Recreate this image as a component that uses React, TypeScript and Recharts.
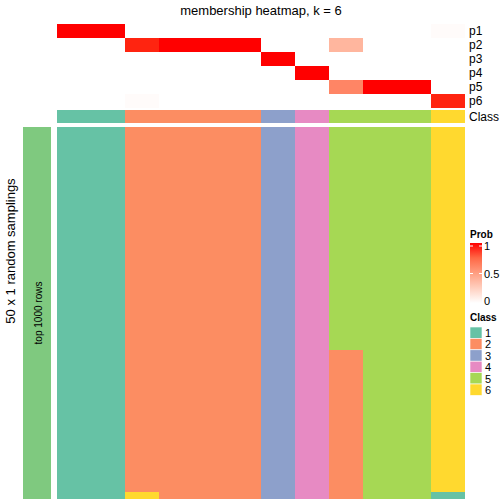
import React from "react"
import { Bar, BarChart, Cell, XAxis, YAxis } from "recharts"

// 12 samples (columns), 6 class probabilities, 50 x 1 random samplings

const columns = ["c1", "c2", "c3", "c4", "c5", "c6", "c7", "c8", "c9", "c10", "c11", "c12"]

const p1 = [1, 1, 0, 0, 0, 0, 0, 0, 0, 0, 0, 0.02]
const p2 = [0, 0, 0.96, 1, 1, 1, 0, 0, 0.38, 0, 0, 0]
const p3 = [0, 0, 0, 0, 0, 0, 1, 0, 0, 0, 0, 0]
const p4 = [0, 0, 0, 0, 0, 0, 0, 1, 0, 0, 0, 0]
const p5 = [0, 0, 0, 0, 0, 0, 0, 0, 0.62, 1, 1, 0]
const p6 = [0, 0, 0.02, 0, 0, 0, 0, 0, 0, 0, 0, 0.96]
const classes = [1, 1, 2, 2, 2, 2, 3, 4, 5, 5, 5, 6]

// samplings: class of the upper block, class of the lower block, rows in lower block
const nSamplings = 50
const topClass = [1, 1, 2, 2, 2, 2, 3, 4, 5, 5, 5, 6]
const bottomClass = [1, 1, 6, 2, 2, 2, 3, 4, 2, 5, 5, 1]
const bottomRows = [0, 0, 1, 0, 0, 0, 0, 0, 20, 0, 0, 1]

const classLabels = ["1", "2", "3", "4", "5", "6"]
const classColors: Record<number, string> = {
  1: "#66C2A5",
  2: "#FC8D62",
  3: "#8DA0CB",
  4: "#E78AC3",
  5: "#A6D854",
  6: "#FFD92F",
}
const probTicks = [1, 0.5, 0]

const font = "'Liberation Sans', Arial, Helvetica, sans-serif"

// white -> red in LAB space
const lin = (c: number) => {
  c /= 255
  return c <= 0.04045 ? c / 12.92 : Math.pow((c + 0.055) / 1.055, 2.4)
}
const toLab = (r: number, g: number, b: number) => {
  const R = lin(r), G = lin(g), B = lin(b)
  const x = (0.4124 * R + 0.3576 * G + 0.1805 * B) / 0.95047
  const y = 0.2126 * R + 0.7152 * G + 0.0722 * B
  const z = (0.0193 * R + 0.1192 * G + 0.9505 * B) / 1.08883
  const f = (t: number) => (t > 0.008856 ? Math.cbrt(t) : 7.787 * t + 16 / 116)
  return [116 * f(y) - 16, 500 * (f(x) - f(y)), 200 * (f(y) - f(z))]
}
const fromLab = (L: number, a: number, b: number) => {
  const fy = (L + 16) / 116
  const fx = fy + a / 500
  const fz = fy - b / 200
  const inv = (t: number) => (t ** 3 > 0.008856 ? t ** 3 : (t - 16 / 116) / 7.787)
  const x = inv(fx) * 0.95047, y = inv(fy), z = inv(fz) * 1.08883
  const r = 3.2406 * x - 1.5372 * y - 0.4986 * z
  const g = -0.9689 * x + 1.8758 * y + 0.0415 * z
  const bb = 0.0557 * x - 0.204 * y + 1.057 * z
  const gam = (c: number) => {
    const v = c <= 0.0031308 ? 12.92 * c : 1.055 * Math.pow(c, 1 / 2.4) - 0.055
    return Math.round(Math.min(1, Math.max(0, v)) * 255)
  }
  return `rgb(${gam(r)},${gam(g)},${gam(bb)})`
}
const white = toLab(255, 255, 255)
const red = toLab(255, 0, 0)
const probColor = (p: number) =>
  fromLab(
    white[0] + (red[0] - white[0]) * p,
    white[1] + (red[1] - white[1]) * p,
    white[2] + (red[2] - white[2]) * p,
  )

const probRows = [
  { key: "p6", values: p6 },
  { key: "p5", values: p5 },
  { key: "p4", values: p4 },
  { key: "p3", values: p3 },
  { key: "p2", values: p2 },
  { key: "p1", values: p1 },
]

const annoData = columns.map((c) => ({
  col: c,
  cls: 0.96,
  gap: 0.11,
  p6: 1,
  p5: 1,
  p4: 1,
  p3: 1,
  p2: 1,
  p1: 1,
}))

const mainData = columns.map((c, i) => ({
  col: c,
  bottom: bottomRows[i],
  top: nSamplings - bottomRows[i],
}))

const rowLabels = ["p1", "p2", "p3", "p4", "p5", "p6", "Class"]

export default function App() {
  const left = 57
  const plotW = 408
  return (
    <div style={{ position: "absolute", left: 0, top: 0, width: 504, height: 504, background: "#fff" }}>
      <div style={{ position: "absolute", left, top: 24 }}>
        <BarChart
          width={plotW}
          height={99}
          data={annoData}
          margin={{ top: 0, right: 0, bottom: 0, left: 0 }}
          barCategoryGap={0}
          barGap={0}
        >
          <XAxis dataKey="col" hide />
          <YAxis type="number" domain={[0, 7.07]} hide />
          <Bar dataKey="cls" stackId="a" isAnimationActive={false} shapeRendering="crispEdges">
            {classes.map((k, i) => (
              <Cell key={i} fill={classColors[k]} />
            ))}
          </Bar>
          <Bar dataKey="gap" stackId="a" fill="#ffffff" isAnimationActive={false} />
          {probRows.map((r) => (
            <Bar key={r.key} dataKey={r.key} stackId="a" isAnimationActive={false} shapeRendering="crispEdges">
              {r.values.map((v, i) => (
                <Cell key={i} fill={probColor(v)} />
              ))}
            </Bar>
          ))}
        </BarChart>
      </div>
      <div style={{ position: "absolute", left, top: 127 }}>
        <BarChart
          width={plotW}
          height={372}
          data={mainData}
          margin={{ top: 0, right: 0, bottom: 0, left: 0 }}
          barCategoryGap={0}
          barGap={0}
        >
          <XAxis dataKey="col" hide />
          <YAxis type="number" domain={[0, nSamplings]} hide />
          <Bar dataKey="bottom" stackId="m" isAnimationActive={false} shapeRendering="crispEdges">
            {bottomClass.map((k, i) => (
              <Cell key={i} fill={classColors[k]} />
            ))}
          </Bar>
          <Bar dataKey="top" stackId="m" isAnimationActive={false} shapeRendering="crispEdges">
            {topClass.map((k, i) => (
              <Cell key={i} fill={classColors[k]} />
            ))}
          </Bar>
        </BarChart>
      </div>
      <svg
        width={504}
        height={504}
        style={{ position: "absolute", left: 0, top: 0, pointerEvents: "none" }}
        fontFamily={font}
      >
        <defs>
          <linearGradient id="probGrad" x1="0" y1="1" x2="0" y2="0">
            {[0, 0.25, 0.5, 0.75, 1].map((t) => (
              <stop key={t} offset={t} stopColor={probColor(t)} />
            ))}
          </linearGradient>
        </defs>
        <text x={261} y={15} textAnchor="middle" fontSize={13}>
          membership heatmap, k = 6
        </text>
        {rowLabels.map((l, i) => (
          <text
            key={l}
            x={469}
            y={i < 6 ? 31 + i * 14 : 117}
            dominantBaseline="central"
            fontSize={12}
          >
            {l}
          </text>
        ))}
        <text
          transform="translate(15 251) rotate(-90)"
          textAnchor="middle"
          fontSize={13}
        >
          50 x 1 random samplings
        </text>
        <rect x={23} y={127} width={28} height={372} fill="#7FC97F" />
        <text
          transform="translate(41.5 313) rotate(-90)"
          textAnchor="middle"
          fontSize={10}
        >
          top 1000 rows
        </text>
        <text x={470} y={238} fontSize={10} fontWeight="bold">
          Prob
        </text>
        <rect x={470} y={243} width={12} height={60} fill="url(#probGrad)" />
        {probTicks.map((t) => {
          const y = 301 - t * 55
          return (
            <g key={t}>
              {t > 0 && <line x1={470} x2={473} y1={y} y2={y} stroke="#fff" strokeWidth={1} />}
              {t > 0 && <line x1={479} x2={482} y1={y} y2={y} stroke="#fff" strokeWidth={1} />}
              <text x={484} y={y} dominantBaseline="central" fontSize={11}>
                {String(t)}
              </text>
            </g>
          )
        })}
        <text x={470} y={321} fontSize={10} fontWeight="bold">
          Class
        </text>
        {classLabels.map((l, i) => (
          <g key={l}>
            <rect x={470} y={327 + i * 11.4} width={12} height={11.4} fill={classColors[i + 1]} stroke="#fff" strokeWidth={0.6} />
            <text x={485} y={327 + i * 11.4 + 5.9} dominantBaseline="central" fontSize={11}>
              {l}
            </text>
          </g>
        ))}
      </svg>
    </div>
  )
}
